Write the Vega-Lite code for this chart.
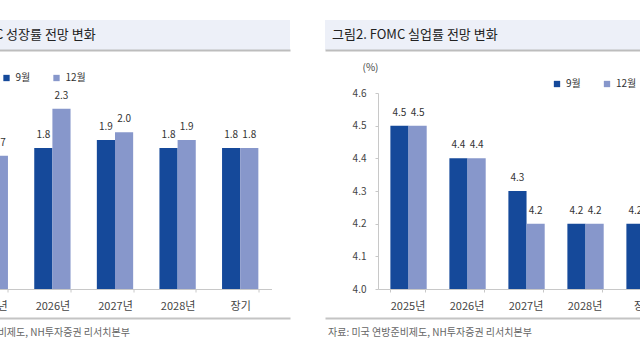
{
  "$schema": "https://vega.github.io/schema/vega-lite/v6.json",
  "padding": {"left": -74, "top": 20, "right": -86, "bottom": 0},
  "background": "white",
  "config": {
    "font": "Noto Sans CJK KR",
    "view": {"stroke": null},
    "axis": {"labelFont": "Noto Sans CJK KR", "titleFont": "Noto Sans CJK KR"},
    "legend": {"labelFont": "Noto Sans CJK KR"}
  },
  "datasets": {
    "gdp": [
      {"year": "2025년", "month": "9월", "value": 1.6},
      {"year": "2025년", "month": "12월", "value": 1.7},
      {"year": "2026년", "month": "9월", "value": 1.8},
      {"year": "2026년", "month": "12월", "value": 2.3},
      {"year": "2027년", "month": "9월", "value": 1.9},
      {"year": "2027년", "month": "12월", "value": 2.0},
      {"year": "2028년", "month": "9월", "value": 1.8},
      {"year": "2028년", "month": "12월", "value": 1.9},
      {"year": "장기", "month": "9월", "value": 1.8},
      {"year": "장기", "month": "12월", "value": 1.8}
    ],
    "unemp": [
      {"year": "2025년", "month": "9월", "value": 4.5},
      {"year": "2025년", "month": "12월", "value": 4.5},
      {"year": "2026년", "month": "9월", "value": 4.4},
      {"year": "2026년", "month": "12월", "value": 4.4},
      {"year": "2027년", "month": "9월", "value": 4.3},
      {"year": "2027년", "month": "12월", "value": 4.2},
      {"year": "2028년", "month": "9월", "value": 4.2},
      {"year": "2028년", "month": "12월", "value": 4.2},
      {"year": "장기", "month": "9월", "value": 4.2},
      {"year": "장기", "month": "12월", "value": 4.2}
    ]
  },
  "spacing": 35,
  "resolve": {"scale": {"color": "independent"}, "legend": {"color": "independent"}},
  "hconcat": [
    {
      "bounds": "flush",
      "center": true,
      "spacing": 43,
      "resolve": {"scale": {"color": "independent"}, "legend": {"color": "independent"}},
      "vconcat": [
        {
          "width": 350, "height": 30,
          "view": {"fill": "#edf0f8", "stroke": null},
          "data": {"values": [{"t": "그림1. FOMC 성장률 전망 변화"}]},
          "mark": {"type": "text", "align": "left", "baseline": "middle", "fontSize": 13, "dx": -10, "color": "#222"},
          "encoding": {
            "x": {"datum": 0, "type": "quantitative", "scale": {"domain": [0, 1], "nice": false},
              "axis": {"labels": false, "ticks": false, "grid": false, "title": null, "domainColor": "#bdbdbd", "domainWidth": 2}},
            "text": {"field": "t"}
          }
        },
        {
          "width": 313, "height": 196,
          "data": {"name": "gdp"},
          "encoding": {
            "x": {"field": "year", "type": "nominal", "sort": null,
              "scale": {"paddingInner": 0.42, "paddingOuter": 0.21},
              "axis": {"title": null, "labelAngle": 0, "tickBand": "extent", "domainColor": "#c8c8c8", "tickColor": "#c8c8c8", "tickSize": 3, "labelPadding": 8, "labelFontSize": 11, "labelColor": "#444"}},
            "xOffset": {"field": "month", "type": "nominal", "sort": ["9월", "12월"], "scale": {"paddingInner": 0}},
            "y": {"field": "value", "type": "quantitative", "scale": {"domain": [0, 2.5]}, "axis": null}
          },
          "layer": [
            {
              "mark": {"type": "bar"},
              "encoding": {
                "color": {"field": "month", "type": "nominal", "sort": ["9월", "12월"],
                  "scale": {"domain": ["9월", "12월"], "range": ["#15499a", "#8797cb"]},
                  "legend": {"title": null, "orient": "none", "legendX": 43, "legendY": -20, "direction": "horizontal", "symbolType": "square", "symbolSize": 40, "symbolStrokeWidth": 0, "labelFontSize": 10, "labelColor": "#333", "columnPadding": 21, "padding": 0}}
              }
            },
            {
              "mark": {"type": "text", "baseline": "middle", "dy": -13, "fontSize": 10, "color": "#333"},
              "encoding": {"text": {"field": "value", "type": "quantitative", "format": ".1f"}}
            }
          ]
        },
        {
          "width": 350, "height": 2,
          "data": {"values": [{"t": "자료: 미국 연방준비제도, NH투자증권 리서치본부"}]},
          "mark": {"type": "text", "align": "left", "baseline": "middle", "fontSize": 10, "dx": -14, "color": "#666"},
          "encoding": {
            "x": {"datum": 0, "type": "quantitative", "scale": {"domain": [0, 1], "nice": false},
              "axis": {"orient": "top", "offset": 14, "labels": false, "ticks": false, "grid": false, "title": null, "domainColor": "#c4c4c4", "domainWidth": 2}},
            "text": {"field": "t"}
          }
        }
      ]
    },
    {
      "bounds": "flush",
      "center": true,
      "spacing": 43,
      "resolve": {"scale": {"color": "independent"}, "legend": {"color": "independent"}},
      "vconcat": [
        {
          "width": 401, "height": 30,
          "view": {"fill": "#edf0f8", "stroke": null},
          "data": {"values": [{"t": "그림2. FOMC 실업률 전망 변화"}]},
          "mark": {"type": "text", "align": "left", "baseline": "middle", "fontSize": 13, "dx": 7, "color": "#222"},
          "encoding": {
            "x": {"datum": 0, "type": "quantitative", "scale": {"domain": [0, 1], "nice": false},
              "axis": {"labels": false, "ticks": false, "grid": false, "title": null, "domainColor": "#bdbdbd", "domainWidth": 2}},
            "text": {"field": "t"}
          }
        },
        {
          "width": 295, "height": 196,
          "data": {"name": "unemp"},
          "encoding": {
            "x": {"field": "year", "type": "nominal", "sort": null,
              "scale": {"paddingInner": 0.42, "paddingOuter": 0.21},
              "axis": {"title": null, "labelAngle": 0, "tickBand": "extent", "domainColor": "#c8c8c8", "tickColor": "#c8c8c8", "tickSize": 3, "labelPadding": 8, "labelFontSize": 11, "labelColor": "#444"}},
            "xOffset": {"field": "month", "type": "nominal", "sort": ["9월", "12월"], "scale": {"paddingInner": 0}},
            "y": {"field": "value", "type": "quantitative", "scale": {"domain": [4.0, 4.6], "zero": false, "nice": false},
              "axis": {"title": "(%)", "titleAngle": 0, "titleX": -8, "titleY": -26, "titleAlign": "center", "titleBaseline": "middle", "titleFontSize": 10, "titleFontWeight": "normal", "titleColor": "#444",
                "values": [4.0, 4.1, 4.2, 4.3, 4.4, 4.5, 4.6], "format": ".1f", "grid": false, "domainColor": "#c8c8c8", "tickColor": "#c8c8c8", "tickSize": 3, "labelPadding": 9, "labelFontSize": 10, "labelColor": "#444"}}
          },
          "layer": [
            {
              "mark": {"type": "bar"},
              "encoding": {
                "y2": {"datum": 4.0},
                "color": {"field": "month", "type": "nominal", "sort": ["9월", "12월"],
                  "scale": {"domain": ["9월", "12월"], "range": ["#15499a", "#8797cb"]},
                  "legend": {"title": null, "orient": "none", "legendX": 174, "legendY": -14, "direction": "horizontal", "symbolType": "square", "symbolSize": 40, "symbolStrokeWidth": 0, "labelFontSize": 10, "labelColor": "#333", "columnPadding": 21, "padding": 0}}
              }
            },
            {
              "mark": {"type": "text", "baseline": "middle", "dy": -13, "fontSize": 10, "color": "#333"},
              "encoding": {"text": {"field": "value", "type": "quantitative", "format": ".1f"}}
            }
          ]
        },
        {
          "width": 401, "height": 2,
          "data": {"values": [{"t": "자료: 미국 연방준비제도, NH투자증권 리서치본부"}]},
          "mark": {"type": "text", "align": "left", "baseline": "middle", "fontSize": 10, "dx": 3, "color": "#666"},
          "encoding": {
            "x": {"datum": 0, "type": "quantitative", "scale": {"domain": [0, 1], "nice": false},
              "axis": {"orient": "top", "offset": 14, "labels": false, "ticks": false, "grid": false, "title": null, "domainColor": "#c4c4c4", "domainWidth": 2}},
            "text": {"field": "t"}
          }
        }
      ]
    }
  ]
}
